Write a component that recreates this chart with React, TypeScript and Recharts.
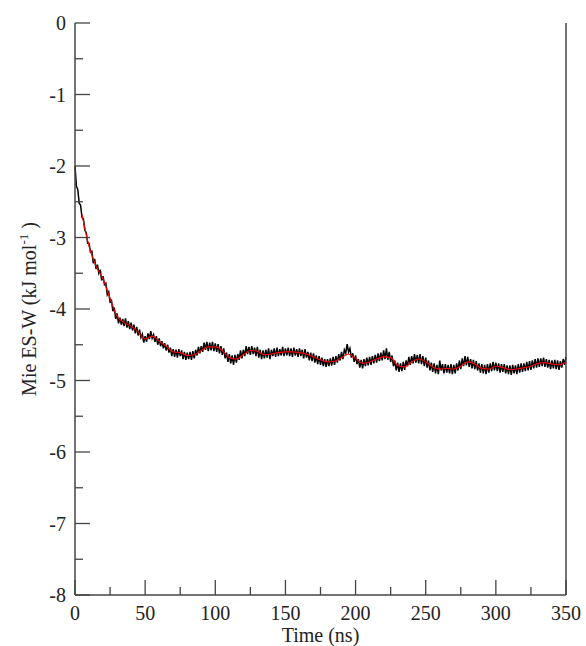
import { LineChart, Line, XAxis, YAxis } from 'recharts';

// raw trace, one sample per ns (0..350)
const rawEnergy = [
  -2.00, -2.28, -2.33, -2.52, -2.55, -2.72, -2.74, -2.90, -2.93, -3.08, -3.08,
  -3.20, -3.19, -3.36, -3.30, -3.44, -3.38, -3.50, -3.45, -3.60, -3.54,
  -3.66, -3.64, -3.80, -3.76, -3.90, -3.88, -4.03, -3.98, -4.14, -4.06,
  -4.20, -4.12, -4.22, -4.14, -4.24, -4.13, -4.26, -4.17, -4.28, -4.19,
  -4.30, -4.22, -4.34, -4.25, -4.37, -4.29, -4.40, -4.35, -4.47, -4.38,
  -4.46, -4.34, -4.42, -4.31, -4.41, -4.36, -4.46, -4.38, -4.50, -4.41,
  -4.52, -4.45, -4.55, -4.48, -4.58, -4.50, -4.61, -4.54, -4.66, -4.56,
  -4.67, -4.57, -4.68, -4.56, -4.66, -4.58, -4.70, -4.60, -4.71, -4.61,
  -4.70, -4.60, -4.71, -4.59, -4.69, -4.57, -4.65, -4.53, -4.62, -4.52,
  -4.60, -4.47, -4.57, -4.46, -4.59, -4.47, -4.58, -4.46, -4.59, -4.48,
  -4.60, -4.49, -4.62, -4.52, -4.64, -4.55, -4.69, -4.61, -4.74, -4.63,
  -4.76, -4.65, -4.78, -4.64, -4.75, -4.63, -4.71, -4.58, -4.69, -4.57,
  -4.66, -4.52, -4.63, -4.53, -4.64, -4.52, -4.63, -4.54, -4.66, -4.53,
  -4.68, -4.57, -4.70, -4.58, -4.69, -4.57, -4.68, -4.55, -4.70, -4.57,
  -4.66, -4.55, -4.67, -4.54, -4.66, -4.56, -4.65, -4.53, -4.66, -4.55,
  -4.65, -4.54, -4.66, -4.55, -4.67, -4.54, -4.65, -4.56, -4.67, -4.55,
  -4.66, -4.57, -4.69, -4.56, -4.68, -4.60, -4.72, -4.61, -4.73, -4.62,
  -4.75, -4.65, -4.77, -4.66, -4.78, -4.68, -4.80, -4.70, -4.81, -4.70,
  -4.80, -4.69, -4.79, -4.67, -4.78, -4.66, -4.75, -4.63, -4.72, -4.60,
  -4.70, -4.57, -4.62, -4.49, -4.60, -4.55, -4.68, -4.62, -4.74, -4.65,
  -4.77, -4.70, -4.82, -4.71, -4.83, -4.70, -4.80, -4.68, -4.79, -4.67,
  -4.78, -4.66, -4.76, -4.64, -4.75, -4.62, -4.73, -4.61, -4.72, -4.58,
  -4.70, -4.55, -4.71, -4.60, -4.74, -4.65, -4.80, -4.72, -4.86, -4.75,
  -4.88, -4.76, -4.87, -4.74, -4.85, -4.72, -4.80, -4.67, -4.78, -4.66,
  -4.76, -4.63, -4.75, -4.64, -4.76, -4.63, -4.77, -4.66, -4.80, -4.68,
  -4.82, -4.72, -4.86, -4.75, -4.88, -4.76, -4.90, -4.78, -4.91, -4.72,
  -4.86, -4.77, -4.90, -4.77, -4.89, -4.78, -4.90, -4.77, -4.91, -4.78,
  -4.90, -4.76, -4.86, -4.72, -4.84, -4.69, -4.80, -4.66, -4.79, -4.67,
  -4.81, -4.70, -4.83, -4.71, -4.84, -4.73, -4.86, -4.76, -4.89, -4.77,
  -4.90, -4.78, -4.91, -4.77, -4.89, -4.76, -4.87, -4.74, -4.86, -4.75,
  -4.87, -4.76, -4.89, -4.77, -4.88, -4.77, -4.90, -4.79, -4.91, -4.79,
  -4.92, -4.78, -4.90, -4.79, -4.91, -4.77, -4.89, -4.76, -4.88, -4.76,
  -4.87, -4.74, -4.86, -4.73, -4.85, -4.72, -4.83, -4.70, -4.82, -4.69,
  -4.81, -4.69, -4.80, -4.68, -4.81, -4.70, -4.82, -4.71, -4.84, -4.72,
  -4.83, -4.71, -4.84, -4.72, -4.85, -4.73, -4.82, -4.70, -4.78, -4.67,
];

// running average, every 5 ns from 5 to 350
const smoothTime = [
  5, 10, 15, 20, 25, 30, 35, 40, 45, 50, 55, 60, 65, 70, 75, 80, 85, 90, 95, 100,
  105, 110, 115, 120, 125, 130, 135, 140, 145, 150, 155, 160, 165, 170, 175, 180,
  185, 190, 195, 200, 205, 210, 215, 220, 225, 230, 235, 240, 245, 250, 255, 260,
  265, 270, 275, 280, 285, 290, 295, 300, 305, 310, 315, 320, 325, 330, 335, 340,
  345, 350,
];
const smoothEnergy = [
  -2.68, -3.12, -3.40, -3.58, -3.85, -4.10, -4.19, -4.24, -4.32, -4.42, -4.38, -4.45,
  -4.52, -4.60, -4.61, -4.65, -4.64, -4.58, -4.53, -4.53, -4.58, -4.68, -4.70, -4.64,
  -4.58, -4.59, -4.64, -4.63, -4.61, -4.60, -4.60, -4.61, -4.63, -4.67, -4.71, -4.74,
  -4.73, -4.68, -4.63, -4.69, -4.76, -4.74, -4.70, -4.67, -4.68, -4.79, -4.81, -4.74,
  -4.70, -4.74, -4.81, -4.84, -4.83, -4.84, -4.80, -4.74, -4.77, -4.83, -4.84, -4.80,
  -4.82, -4.85, -4.84, -4.82, -4.80, -4.76, -4.75, -4.77, -4.78, -4.74,
];

const xTicks = [0, 25, 50, 75, 100, 125, 150, 175, 200, 225, 250, 275, 300, 325, 350];
const yTicks = [0, -0.5, -1, -1.5, -2, -2.5, -3, -3.5, -4, -4.5, -5, -5.5, -6, -6.5, -7, -7.5, -8];

const rawData = rawEnergy.map((v, i) => ({ t: i, e: v }));
const smoothData = smoothTime.map((t, i) => ({ t, e: smoothEnergy[i] }));

const FONT = "'Liberation Serif', 'Times New Roman', serif";
const AXIS = '#444';
const MAJOR = 15;
const MINOR = 8;
const textStyle = { fontFamily: FONT, fontSize: 20 };

const BottomTick = (props: any) => {
  const { x, y, payload } = props;
  const major = payload.value % 50 === 0;
  return (
    <g>
      <line x1={x} x2={x} y1={y} y2={y - (major ? MAJOR : MINOR)} stroke={AXIS} strokeWidth={1.3} />
      {major && (
        <text x={x} y={y + 25} textAnchor="middle" style={textStyle} fill="#222">
          {payload.value}
        </text>
      )}
    </g>
  );
};

const TopTick = (props: any) => {
  const { x, y, payload } = props;
  const major = payload.value % 50 === 0;
  return <line x1={x} x2={x} y1={y} y2={y + (major ? MAJOR : MINOR)} stroke={AXIS} strokeWidth={1.3} />;
};

const LeftTick = (props: any) => {
  const { x, y, payload } = props;
  const major = Number.isInteger(payload.value);
  return (
    <g>
      <line x1={x} x2={x + (major ? MAJOR : MINOR)} y1={y} y2={y} stroke={AXIS} strokeWidth={1.3} />
      {major && (
        <text x={x - 9} y={y + 7} textAnchor="end" style={textStyle} fill="#222">
          {payload.value}
        </text>
      )}
    </g>
  );
};

const RightTick = (props: any) => {
  const { x, y, payload } = props;
  const major = Number.isInteger(payload.value);
  return <line x1={x} x2={x - (major ? MAJOR : MINOR)} y1={y} y2={y} stroke={AXIS} strokeWidth={1.3} />;
};

const XLabel = (props: any) => {
  const { viewBox } = props;
  const cx = viewBox.x + viewBox.width / 2;
  return (
    <text x={cx} y={642} textAnchor="middle" style={textStyle} fill="#222">
      Time (ns)
    </text>
  );
};

const YLabel = (props: any) => {
  const { viewBox } = props;
  const cy = viewBox.y + viewBox.height / 2;
  const cx = 36;
  return (
    <text
      x={cx}
      y={cy}
      transform={`rotate(-90, ${cx}, ${cy})`}
      textAnchor="middle"
      style={textStyle}
      fill="#222"
    >
      Mie ES-W (kJ mol
      <tspan style={{ fontSize: 13 }} dy={-8}>-1</tspan>
      <tspan dy={8}> )</tspan>
    </text>
  );
};

const App = () => {
  return (
    <div style={{ position: 'absolute', left: 0, top: 0, background: '#fff' }}>
      <LineChart width={586} height={646} margin={{ top: 23, right: 0, bottom: 0, left: 0 }}>
        <XAxis
          xAxisId="bottom"
          dataKey="t"
          type="number"
          domain={[0, 350]}
          ticks={xTicks}
          interval={0}
          height={51}
          tickSize={0}
          tickMargin={0}
          tickLine={false}
          axisLine={{ stroke: AXIS, strokeWidth: 1.5 }}
          tick={BottomTick}
          label={<XLabel />}
        />
        <XAxis
          xAxisId="top"
          orientation="top"
          dataKey="t"
          type="number"
          domain={[0, 350]}
          ticks={xTicks}
          interval={0}
          height={0}
          tickSize={0}
          tickMargin={0}
          tickLine={false}
          axisLine={{ stroke: AXIS, strokeWidth: 1.5 }}
          tick={TopTick}
        />
        <YAxis
          yAxisId="left"
          type="number"
          domain={[-8, 0]}
          ticks={yTicks}
          interval={0}
          width={75}
          tickSize={0}
          tickMargin={0}
          tickLine={false}
          axisLine={{ stroke: AXIS, strokeWidth: 1.5 }}
          tick={LeftTick}
          label={<YLabel />}
        />
        <YAxis
          yAxisId="right"
          orientation="right"
          type="number"
          domain={[-8, 0]}
          ticks={yTicks}
          interval={0}
          width={20}
          tickSize={0}
          tickMargin={0}
          tickLine={false}
          axisLine={{ stroke: AXIS, strokeWidth: 1.5 }}
          tick={RightTick}
        />
        <Line
          xAxisId="bottom"
          yAxisId="left"
          data={rawData}
          dataKey="e"
          type="linear"
          stroke="#000"
          strokeWidth={1.5}
          dot={false}
          isAnimationActive={false}
        />
        <Line
          xAxisId="bottom"
          yAxisId="left"
          data={smoothData}
          dataKey="e"
          type="monotone"
          stroke="#ff0000"
          strokeWidth={1.1}
          dot={false}
          isAnimationActive={false}
        />
      </LineChart>
    </div>
  );
};

export default App;
